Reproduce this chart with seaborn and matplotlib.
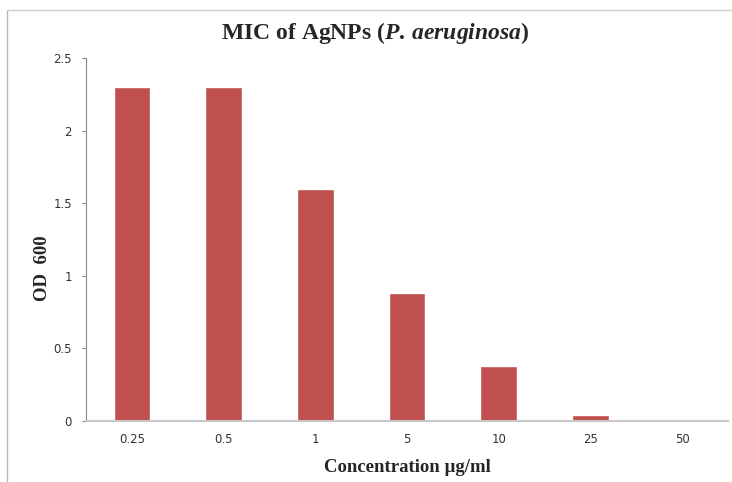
import numpy as np
import pandas as pd
import matplotlib.pyplot as plt
import seaborn as sns
from matplotlib.lines import Line2D

# data
concentrations = ["0.25", "0.5", "1", "5", "10", "25", "50"]
od600 = [2.3, 2.3, 1.6, 0.88, 0.38, 0.04, 0.0]

df = pd.DataFrame({"conc": concentrations, "od": od600})

sns.set_style("white")
plt.rcParams["font.family"] = ["DejaVu Sans"]
plt.rcParams["mathtext.fontset"] = "custom"
plt.rcParams["mathtext.it"] = "Liberation Serif:italic:bold"
plt.rcParams["mathtext.rm"] = "Liberation Serif:bold"
plt.rcParams["mathtext.bf"] = "Liberation Serif:bold"

fig = plt.figure(figsize=(7.32, 4.82), dpi=100)
ax = fig.add_axes([0.1175, 0.1266, 0.877, 0.7531])

sns.barplot(data=df, x="conc", y="od", color="#C0504D", saturation=1,
            width=0.4, ax=ax)

ax.set_ylim(0, 2.5)
ax.set_yticks([0, 0.5, 1, 1.5, 2, 2.5])
ax.set_yticklabels(["0", "0.5", "1", "1.5", "2", "2.5"])
ax.set_xlim(-0.5, len(concentrations) - 0.5)

for s in ["top", "right"]:
    ax.spines[s].set_visible(False)
ax.spines["left"].set_color("#888888")
ax.spines["left"].set_linewidth(0.8)
ax.spines["bottom"].set_color("#c8c8c8")
ax.spines["bottom"].set_linewidth(1.5)

ax.tick_params(axis="y", length=3, width=0.8, color="#888888", left=True,
               labelsize=8.5, labelcolor="#333333", pad=7)
ax.tick_params(axis="x", length=0, labelsize=8.5, labelcolor="#333333", pad=9)

ax.set_xlabel("Concentration µg/ml", family="Liberation Serif",
              fontweight="bold", fontsize=13.5, labelpad=9)
ax.set_ylabel("OD  600", family="Liberation Serif", fontweight="bold",
              fontsize=13.5)
ax.yaxis.set_label_coords(-0.055, 0.42)
ax.set_title("MIC of AgNPs ($\\it{P.\\,aeruginosa}$)", x=0.45,
             family="Liberation Serif", fontweight="bold", fontsize=17, pad=14)

# chart frame, as in the screenshot
fig.add_artist(Line2D([0.0096, 0.0096], [0, 0.98], color="#bbbbbb", lw=1))
fig.add_artist(Line2D([0.0096, 1], [0.98, 0.98], color="#cccccc", lw=1))

fig.savefig("out.png", dpi=100)
